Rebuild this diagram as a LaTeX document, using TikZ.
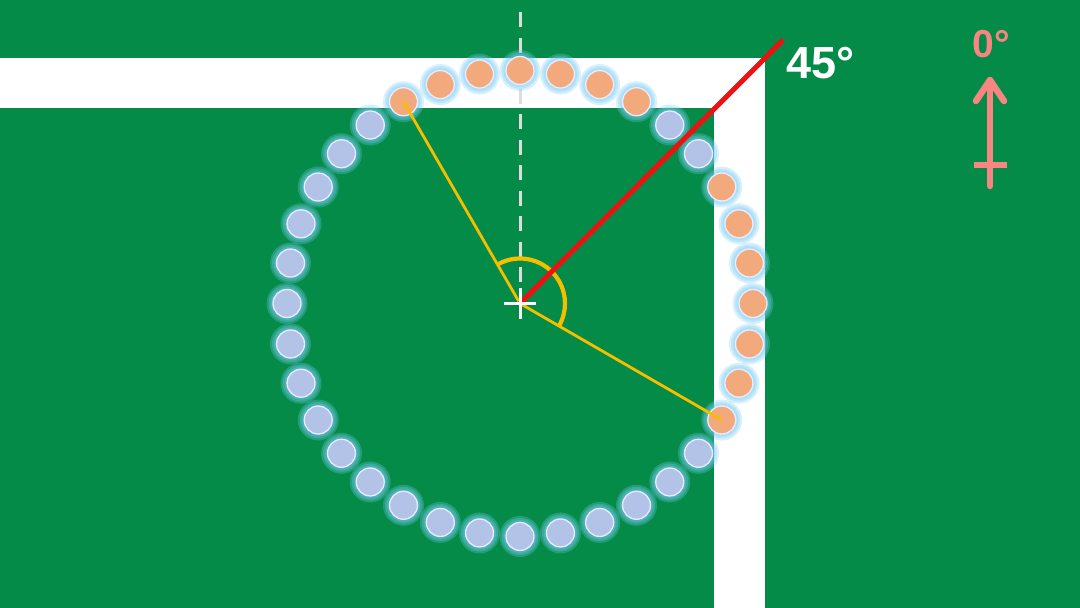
\documentclass[tikz,border=0pt]{standalone}
\usepackage{fontspec}
\setmainfont{Liberation Sans}
\definecolor{bg}{HTML}{038B47}
\definecolor{dotblue}{HTML}{B3C3E8}
\definecolor{dotorange}{HTML}{F2AA7C}
\definecolor{glowc}{HTML}{78CDF5}
\definecolor{ylw}{HTML}{F7BE00}
\definecolor{rd}{HTML}{EE1111}
\definecolor{pinkc}{HTML}{F78683}
\definecolor{dashc}{HTML}{DDDDDD}
\tikzset{
  dotnode/.style={circle, minimum size=28pt, inner sep=0pt, draw=white!92!blue, line width=1.3pt},
  glowring/.style={fill=glowc, opacity=0.28},
  yline/.style={ylw, line width=2.8pt},
  pinkline/.style={pinkc, line width=6.5pt, line cap=round, line join=round},
}
\begin{document}
\begin{tikzpicture}[x=1pt,y=-1pt]
\fill[bg] (0,0) rectangle (1080,608);
\useasboundingbox (0,0) rectangle (1080,608);
% white lines of the pitch
\fill[white] (0,58) rectangle (765,108);
\fill[white] (714,58) rectangle (765,608);
% centre
\coordinate (c) at (520,303.5);
\coordinate (dtop) at (520,12);
\draw[dashc, line width=3pt, dash pattern=on 15pt off 10.5pt] (dtop) -- (c);
\begin{scope}[shift={(c)}]
  \foreach \a in {0,10,...,350}{
    \pgfmathsetmacro\t{\a-90}
    \fill[glowring] (\t:233) circle (20.5);
    \fill[glowring] (\t:233) circle (18.5);
    \fill[glowring] (\t:233) circle (16.5);
  }
  \foreach \a in {40,50,130,140,...,320}{
    \pgfmathsetmacro\t{\a-90}
    \node[dotnode, fill=dotblue] (d\a) at (\t:233) {};
  }
  \foreach \a in {330,340,350,0,10,20,30,60,70,80,90,100,110,120}{
    \pgfmathsetmacro\t{\a-90}
    \node[dotnode, fill=dotorange] (d\a) at (\t:233) {};
  }
\end{scope}
% yellow angle
\draw[yline] (d330.center) -- (c) -- (d120.center);
\draw[ylw, line width=4.2pt] (c) ++(-120:45) arc[start angle=-120, end angle=30, radius=45];
% red 45 degree line
\coordinate (r45) at (783,40);
\draw[rd, line width=5pt] (c) -- (r45);
% centre cross
\coordinate (cl) at (504,303.5); \coordinate (cr) at (536,303.5);
\coordinate (ct) at (520,288); \coordinate (cb) at (520,319);
\draw[white, line width=3pt] (cl) -- (cr);
\draw[white, line width=3pt] (ct) -- (cb);
% label 45
\node[white, font=\bfseries\fontsize{45}{45}\selectfont, anchor=base west, inner sep=0pt] (t45) at (786,78) {45°};
% 0 degree indicator
\node[pinkc, font=\bfseries\fontsize{39}{39}\selectfont, anchor=base, inner sep=0pt] (t0) at (991,57) {0°};
\coordinate (ztail) at (990,186);
\coordinate (ztip) at (990,80);
\coordinate (zl) at (976,101);
\coordinate (zr) at (1004,101);
\coordinate (xl) at (974,165);
\coordinate (xr) at (1007,165);
\draw[pinkline] (ztail) -- (ztip);
\draw[pinkline] (zl) -- (ztip) -- (zr);
\draw[pinkc, line width=6.5pt] (xl) -- (xr);
\end{tikzpicture}
\end{document}
